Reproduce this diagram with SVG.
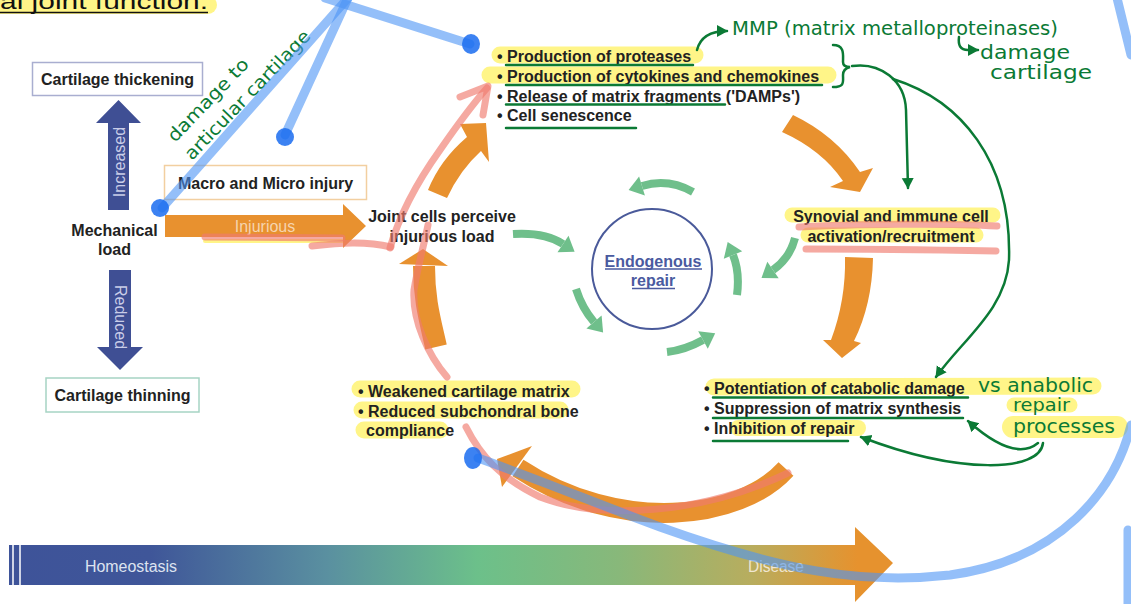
<svg xmlns="http://www.w3.org/2000/svg" width="1131" height="604" viewBox="0 0 1131 604">
<style>
.t{font-family:"Liberation Sans",Arial,sans-serif;font-size:16px;font-weight:bold;fill:#222}
.c{text-anchor:middle}
.hl{fill:none;stroke:#fff26a;stroke-opacity:.8;stroke-linecap:round}
.gu{fill:none;stroke:#0b7a35;stroke-width:2.5;stroke-linecap:round}
.hw{font-family:"DejaVu Sans","Liberation Sans",sans-serif;font-size:19px;fill:#0b7a35}
.ga{fill:none;stroke:#0b7a35;stroke-width:2.5;stroke-linecap:round}
.or{fill:#e8912f}
.gr{fill:none;stroke:#6fbf8b;stroke-width:8}
.grh{fill:#6fbf8b}
.pk{fill:none;stroke:#f07b6e;stroke-opacity:.65;stroke-linecap:round;stroke-width:7}
.bl{fill:none;stroke:#4d94f5;stroke-opacity:.6;stroke-linecap:round;stroke-width:9}
.blob{fill:#1a6cf0;fill-opacity:.85}
.box{fill:#fff;stroke-width:1.5}
</style>
<defs>
<linearGradient id="bar" gradientUnits="userSpaceOnUse" x1="9" y1="0" x2="893" y2="0">
<stop offset="0" stop-color="#3e5399"/>
<stop offset="0.16" stop-color="#3f5699"/>
<stop offset="0.36" stop-color="#5a90a0"/>
<stop offset="0.53" stop-color="#6cc08a"/>
<stop offset="0.69" stop-color="#88b87a"/>
<stop offset="0.84" stop-color="#b8ad5e"/>
<stop offset="0.96" stop-color="#e6922e"/>
</linearGradient>
<marker id="ga" markerUnits="userSpaceOnUse" markerWidth="14" markerHeight="14" refX="10" refY="7" orient="auto">
<path d="M0,1 L11,7 L0,13 Z" fill="#0b7a35"/>
</marker>
</defs>
<rect width="1131" height="604" fill="#fff"/>

<!-- highlights -->
<g id="highlights">
<path class="hl" d="M0,5 L208,5" stroke-width="18"/>
<path class="hl" d="M500,55 L695,55" stroke-width="17"/>
<path class="hl" d="M490,75 L828,75" stroke-width="17"/>
<path class="hl" d="M792,215 L993,215" stroke-width="15"/>
<path class="hl" d="M808,235 L976,235" stroke-width="15"/>
<path class="hl" d="M360,389 L572,389" stroke-width="17"/>
<path class="hl" d="M362,410 L560,410" stroke-width="17"/>
<path class="hl" d="M364,430 L440,430" stroke-width="17"/>
<path class="hl" d="M714,387 L1093,386" stroke-width="17"/>
<path class="hl" d="M1014,405 L1070,405" stroke-width="15"/>
<path class="hl" d="M1013,427 L1117,427" stroke-width="22"/>
<path class="hl" d="M738,428 L858,428" stroke-width="16"/>
<path class="hl" d="M205,241 L345,241" stroke-width="4"/>
</g>

<text class="t" x="0" y="9" style="font-size:22px;font-weight:normal;fill:#111" textLength="208" lengthAdjust="spacingAndGlyphs">al joint function.</text>
<path d="M0,12.5 L208,12.5" stroke="#111" stroke-width="1.6"/>

<g id="cartilage-thickening">
<rect class="box" x="32.5" y="62.5" width="170" height="33" stroke="#a9aed0"/>
<text class="t c" x="117.5" y="85">Cartilage thickening</text>
</g>
<g id="increased">
<path d="M108,210 L108,123 L96,123 L118.5,100 L141,123 L129,123 L129,210 Z" fill="#3f4f94"/>
<text transform="translate(124.5,162) rotate(-90)" text-anchor="middle" style="font-family:'Liberation Sans',Arial,sans-serif;font-size:16px;fill:#c9cde8">Increased</text>
</g>
<g id="mechanical-load">
<text class="t c" x="114.5" y="236">Mechanical</text>
<text class="t c" x="114.5" y="255">load</text>
</g>
<g id="reduced">
<path d="M109,270 L131,270 L131,347 L143,347 L120,370 L97,347 L109,347 Z" fill="#3f4f94"/>
<text transform="translate(114.5,317) rotate(90)" text-anchor="middle" style="font-family:'Liberation Sans',Arial,sans-serif;font-size:16px;fill:#c9cde8">Reduced</text>
</g>
<g id="cartilage-thinning">
<rect class="box" x="46" y="378" width="153" height="34" stroke="#a6d4c4"/>
<text class="t c" x="122.5" y="400.5">Cartilage thinning</text>
</g>
<g id="macro-micro-injury">
<rect class="box" x="164.5" y="165.5" width="202" height="34" stroke="#f2cfa0"/>
<text class="t c" x="265.5" y="188.5">Macro and Micro injury</text>
</g>
<g id="injurious-arrow">
<path class="or" d="M165,215 L343,215 L343,204 L366,226 L343,248 L343,237 L165,237 Z"/>
<text x="265" y="232" text-anchor="middle" style="font-family:'Liberation Sans',Arial,sans-serif;font-size:16px;fill:#f6d4ae">Injurious</text>
</g>
<g id="joint-cells">
<text class="t c" x="442" y="221.5">Joint cells perceive</text>
<text class="t c" x="442" y="241.5">injurious load</text>
</g>
<g id="top-list">
<text class="t" x="497" y="61.5">• Production of proteases</text>
<text class="t" x="497" y="81.5">• Production of cytokines and chemokines</text>
<text class="t" x="497" y="101.5">• Release of matrix fragments ('DAMPs')</text>
<text class="t" x="497" y="121">• Cell senescence</text>
</g>
<g id="synovial">
<text class="t c" x="891" y="221.5">Synovial and immune cell</text>
<text class="t c" x="891" y="241.5">activation/recruitment</text>
</g>
<g id="right-list">
<text class="t" x="704" y="394">• Potentiation of catabolic damage</text>
<text class="t" x="704" y="414">• Suppression of matrix synthesis</text>
<text class="t" x="704" y="433.5">• Inhibition of repair</text>
</g>
<g id="left-list">
<text class="t" x="358" y="396.5">• Weakened cartilage matrix</text>
<text class="t" x="358" y="416.5">• Reduced subchondral bone</text>
<text class="t" x="366" y="436">compliance</text>
</g>
<g id="endogenous-repair">
<circle cx="652" cy="269" r="60" fill="none" stroke="#4a5a9a" stroke-width="2"/>
<text class="t c" x="653" y="266.5" style="fill:#4a5aa0">Endogenous</text>
<text class="t c" x="653" y="285.5" style="fill:#4a5aa0">repair</text>
<path d="M605,269 L702,269 M632,288.5 L675,288.5" stroke="#4a5aa0" stroke-width="1.3"/>
</g>
<g id="timeline">
<path d="M9,545 L855,545 L855,527 L893,563 L855,602 L855,585 L9,585 Z" fill="url(#bar)"/>
<path d="M13,545 L13,585 M20,545 L20,585" stroke="#fff" stroke-width="1.5"/>
<text x="85" y="571.5" textLength="92" lengthAdjust="spacingAndGlyphs" style="font-family:'Liberation Sans',Arial,sans-serif;font-size:16px;fill:#dde3f0">Homeostasis</text>
<text x="748" y="571.5" textLength="56" lengthAdjust="spacingAndGlyphs" style="font-family:'Liberation Sans',Arial,sans-serif;font-size:16px;fill:#f0e6d2">Disease</text>
</g>

<g id="connectors">
<!-- orange cycle -->
<path class="or" d="M428,190 Q440,160 467,137 L460,124 L486,123 L489,162 L481,151 Q460,170 447,198 Z"/>
<path class="or" d="M793,115 Q835,135 860,172 L873,168 L860,192 L830,187 L843,181 Q822,150 782,132 Z"/>
<path class="or" d="M845,257 L873,258 Q872,305 854,341 L861,343 L842,358 L823,340 L831,340 Q846,300 845,257 Z"/>
<path d="M786,469 C740,520 620,535 518,468" fill="none" stroke="#e8912f" stroke-width="20"/>
<polygon class="or" points="532,446 497,459 502,487"/>
<path d="M436,347 C430,320 424,300 424,266" fill="none" stroke="#e8912f" stroke-width="22"/>
<polygon class="or" points="399,264 448,266 423,249"/>
<!-- green repair cycle -->
<path class="gr" d="M513,234 Q545,232 563,244"/>
<polygon class="grh" points="557.5,252.3 568.5,235.7 574.6,251.7"/>
<path class="gr" d="M693,192 Q668,178 642,186"/>
<polygon class="grh" points="639.1,176.4 644.9,195.6 628.6,190.1"/>
<path class="gr" d="M737,295 Q740,272 733,255"/>
<polygon class="grh" points="742.2,251.2 723.8,258.8 727.7,242"/>
<path class="gr" d="M667,352 Q685,350 703,340"/>
<polygon class="grh" points="707.8,348.7 698.2,331.3 715.2,333.3"/>
<path class="gr" d="M576,289 Q582,308 594,322"/>
<polygon class="grh" points="586.4,328.5 601.6,315.5 603.1,332.6"/>
<path class="gr" d="M795,238 Q790,258 773,270"/>
<polygon class="grh" points="778.7,278.2 767.3,261.8 761.5,278"/>
</g>

<g id="annotations">
<!-- green underlines -->
<path class="gu" d="M506,65 L693,65 M506,85 L822,85 M506,104.5 L725,104.5 M506,128 L636,128"/>
<path class="gu" d="M713,397.5 L968,397.5 M713,418 L963,418 M713,441 L848,441"/>
<!-- handwriting -->
<text class="hw" x="732" y="35" textLength="326" lengthAdjust="spacingAndGlyphs">MMP (matrix metalloproteinases)</text>
<text class="hw" x="980" y="59" textLength="90" lengthAdjust="spacingAndGlyphs">damage</text>
<text class="hw" x="990" y="79" textLength="102" lengthAdjust="spacingAndGlyphs">cartilage</text>
<text class="hw" x="978" y="392" textLength="115" lengthAdjust="spacingAndGlyphs">vs anabolic</text>
<text class="hw" x="1013" y="411" textLength="57" lengthAdjust="spacingAndGlyphs" style="font-size:17px">repair</text>
<text class="hw" x="1013" y="433" textLength="102" lengthAdjust="spacingAndGlyphs">processes</text>
<text class="hw" transform="translate(175,143) rotate(-46)" textLength="108" lengthAdjust="spacingAndGlyphs" style="font-size:18px">damage to</text>
<text class="hw" transform="translate(192,161) rotate(-46)" textLength="172" lengthAdjust="spacingAndGlyphs" style="font-size:18px">articular cartilage</text>
<path class="ga" d="M697,50 C700,38 710,31 727,31" marker-end="url(#ga)"/>
<path class="ga" d="M959,37 C958,45 960,50 968,50 L978,50" marker-end="url(#ga)"/>
<path class="ga" d="M833,45 C845,45 843,55 843,62 C843,66 846,67 850,67 C846,68 843,70 843,75 C843,82 845,87 833,87"/>
<path class="ga" d="M852,66 C880,62 905,80 906,110 L908,188" marker-end="url(#ga)"/>
<path class="ga" d="M893,79 C960,100 1012,160 1009,260 C1006,310 962,340 936,377" marker-end="url(#ga)"/>
<path class="ga" d="M1038,443 C1020,458 995,445 968,421" marker-end="url(#ga)"/>
<path class="ga" d="M1043,443 C1040,472 960,475 861,437" marker-end="url(#ga)"/>
<!-- pink / red strokes -->
<path class="pk" d="M205,237 L342,238" stroke-width="6"/>
<path class="pk" d="M312,246 C340,243 365,241 391,247"/>
<path class="pk" d="M390,248 C398,220 415,185 440,150 C458,124 472,105 487,88"/>
<path class="pk" d="M460,97 L488,86 L483,115" stroke-linejoin="round"/>
<path class="pk" d="M428,225 C424,245 418,265 414,290 C412,320 428,355 447,377" stroke="#e8603a"/>
<path class="pk" d="M466,427 C480,455 500,478 540,497 C600,520 700,515 788,473" stroke="#e8603a"/>
<path class="pk" d="M799,227 C850,224 950,223 997,226"/>
<path class="pk" d="M806,249 C870,249 940,250 996,251"/>
<!-- blue strokes -->
<path class="bl" d="M325,-2 L470,44"/>
<path class="bl" d="M348,-2 L162,208"/>
<path class="bl" d="M348,-2 L285,135"/>
<path class="bl" d="M1117,-2 L1131,55"/>
<path class="bl" d="M1131,425 C1115,490 1060,560 950,575 C860,585 780,570 660,527 C600,505 540,480 478,458"/>
<path class="bl" d="M1128,530 L1128,606" stroke-width="7"/>
<ellipse class="blob" cx="471" cy="44" rx="9" ry="10"/>
<ellipse class="blob" cx="160" cy="208" rx="9" ry="9"/>
<ellipse class="blob" cx="285" cy="137" rx="9" ry="9"/>
<ellipse class="blob" cx="473" cy="458" rx="9" ry="11"/>
</g>
</svg>
